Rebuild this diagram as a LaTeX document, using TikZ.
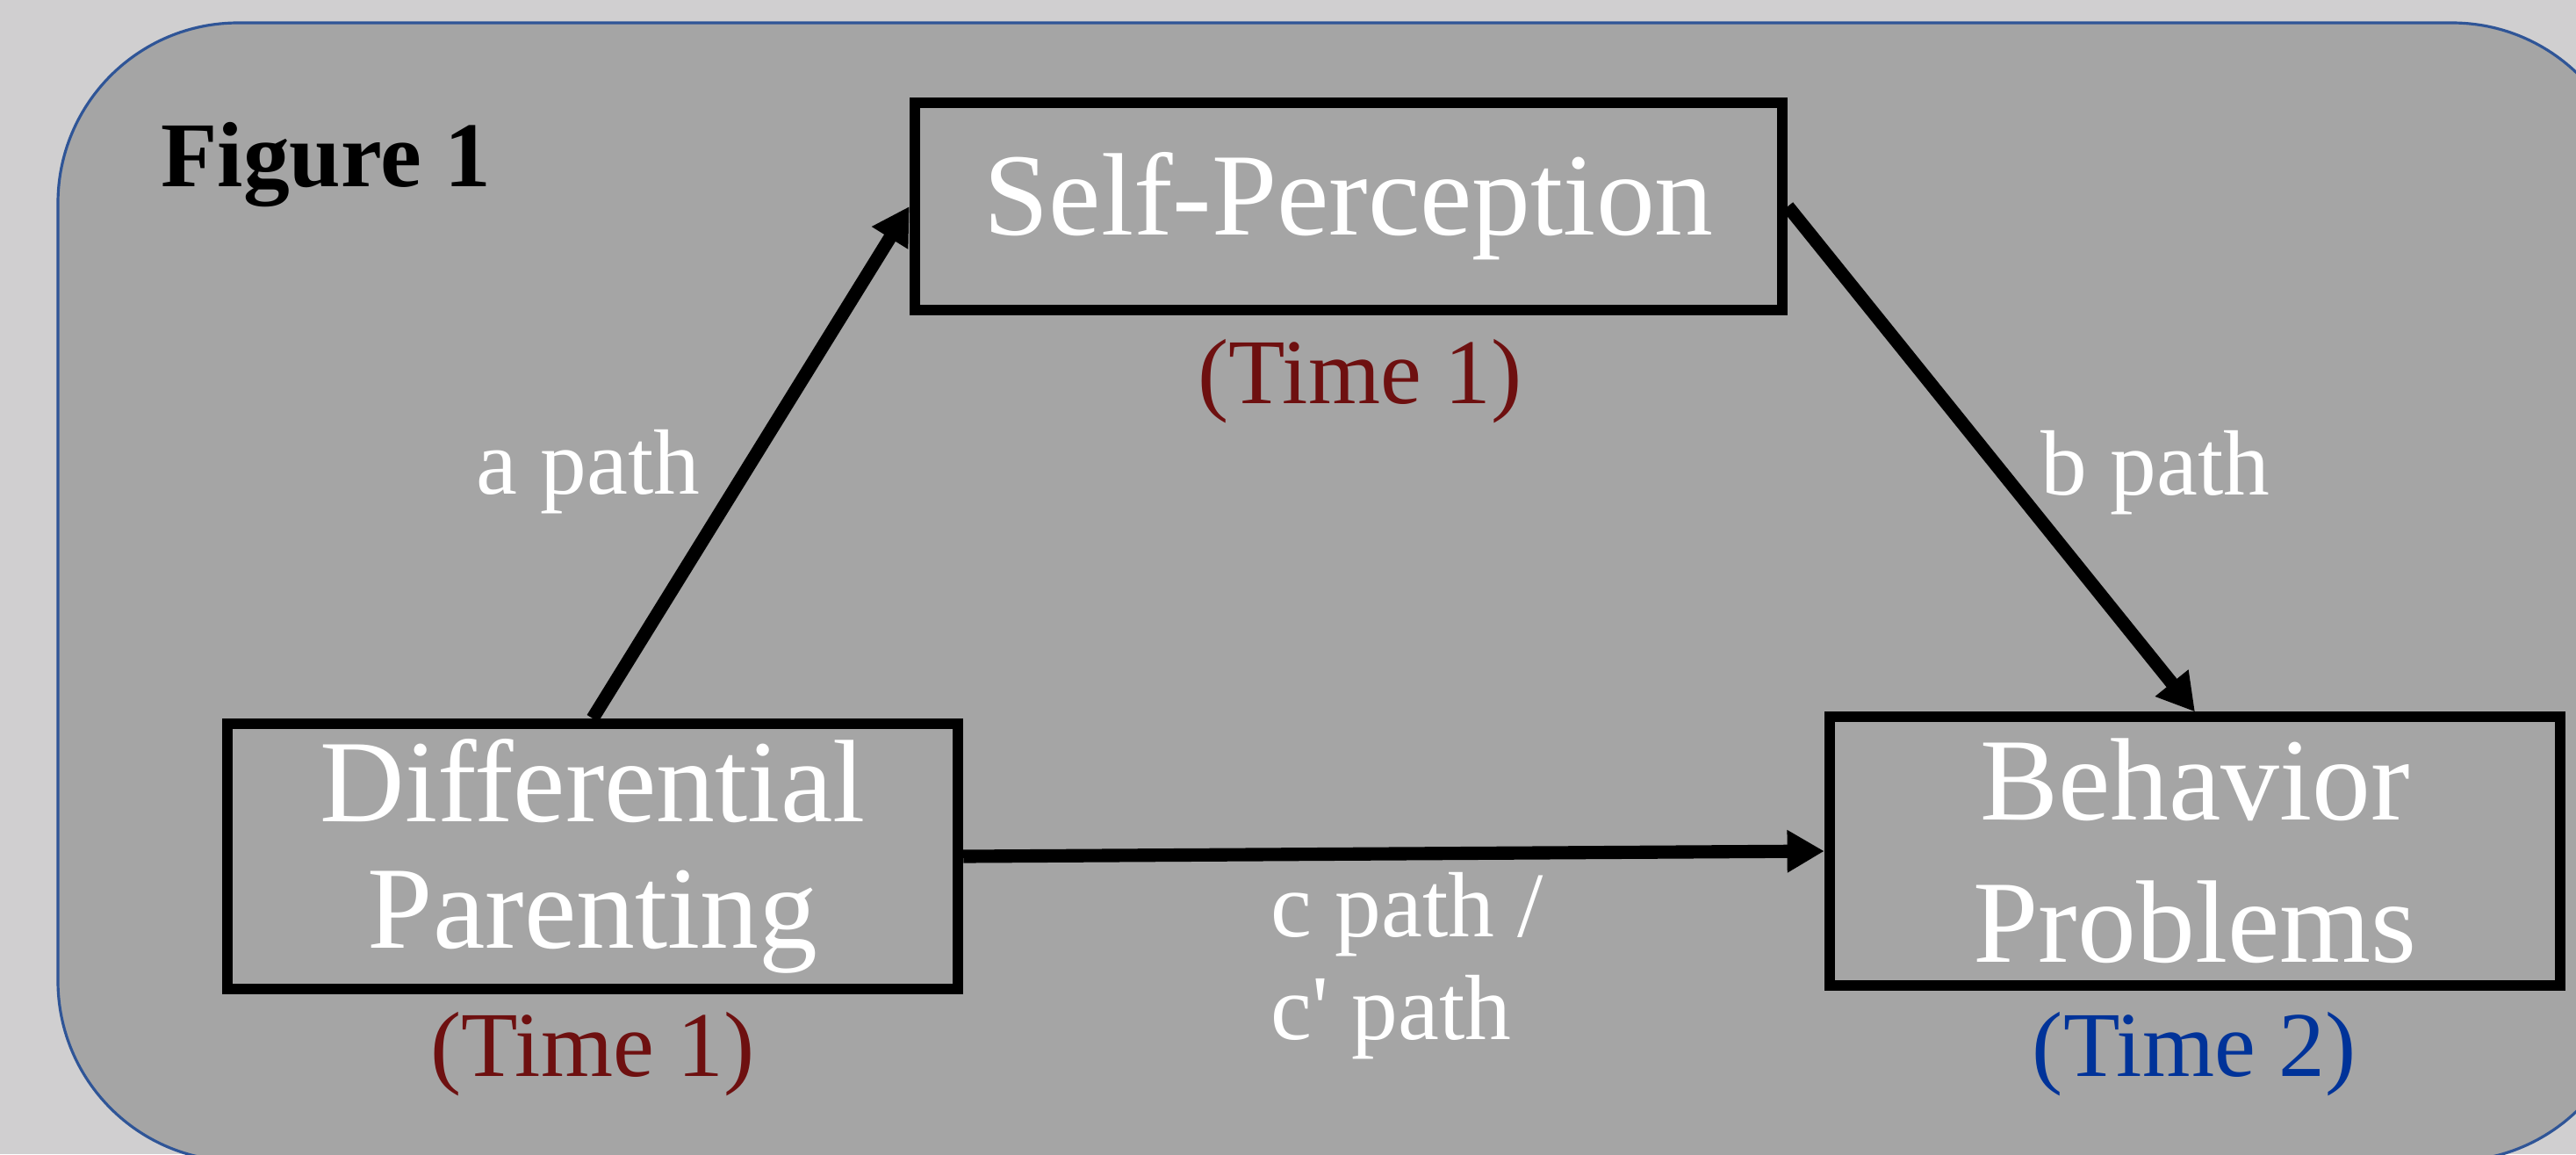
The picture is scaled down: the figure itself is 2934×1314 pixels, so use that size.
\documentclass[tikz,border=0pt]{standalone}
\usepackage{fontspec}
\setmainfont{Liberation Serif}
\usetikzlibrary{arrows.meta}

\begin{document}
\begin{tikzpicture}[x=0.01cm, y=-0.01cm,
    varBox/.style={draw=black, line width=3.4pt, text=white, align=center, inner sep=0pt, font=\fontsize{38}{41}\selectfont},
    timeLabel/.style={anchor=base, font=\fontsize{30}{34}\selectfont},
    pathLabel/.style={text=white, font=\fontsize{30}{33}\selectfont},
    pathArrow/.style={line width=4.3pt, -{Triangle[length=12pt,width=13pt]}}]
    % Define colours
    \definecolor{pageColour}{HTML}{D0CFD0}
    \definecolor{panelColour}{HTML}{A5A5A5}
    \definecolor{panelBorder}{HTML}{2F5597}
    \definecolor{timeOneColour}{HTML}{6E1010}
    \definecolor{timeTwoColour}{HTML}{003399}

    % Page and panel
    \fill[pageColour] (0,0) rectangle (2934,1314);
    \useasboundingbox (0,0) rectangle (2934,1314);
    \filldraw[fill=panelColour, draw=panelBorder, line width=0.9pt, rounded corners=2.05cm] (66,26) rectangle (2998,1322);

    % Title
    \node[anchor=base west, font=\fontsize{30}{34}\selectfont\bfseries] (title) at (171,212) {Figure 1};

    % Variables
    \node[varBox, minimum width=9.88cm, minimum height=2.35cm] (self) at (1536,235) {Self-Perception};
    \node[varBox, minimum width=8.32cm, minimum height=3.02cm] (diff) at (675,975) {Differential\\Parenting};
    \node[varBox, minimum width=8.32cm, minimum height=3.05cm] (behav) at (2500,969) {Behavior\\[5pt]Problems};

    % Time points
    \node[timeLabel, text=timeOneColour] (selfTime) at (1549,459) {(Time 1)};
    \node[timeLabel, text=timeOneColour] (diffTime) at (675,1225) {(Time 1)};
    \node[timeLabel, text=timeTwoColour] (behavTime) at (2499,1225) {(Time 2)};

    % Paths
    \draw[pathArrow] (diff.north) -- (self.west);
    \draw[pathArrow] (self.east) -- (behav.north);
    \draw[pathArrow] (diff.east) -- (behav.west);

    % Path labels
    \node[pathLabel, anchor=base] (aLabel) at (670,562) {a path};
    \node[pathLabel, anchor=base] (bLabel) at (2455,563) {b path};
    \node[pathLabel, anchor=base west, align=left] (cLabel) at (1435,1183) {c path /\\c\textquotesingle{} path};

\end{tikzpicture}
\end{document}
